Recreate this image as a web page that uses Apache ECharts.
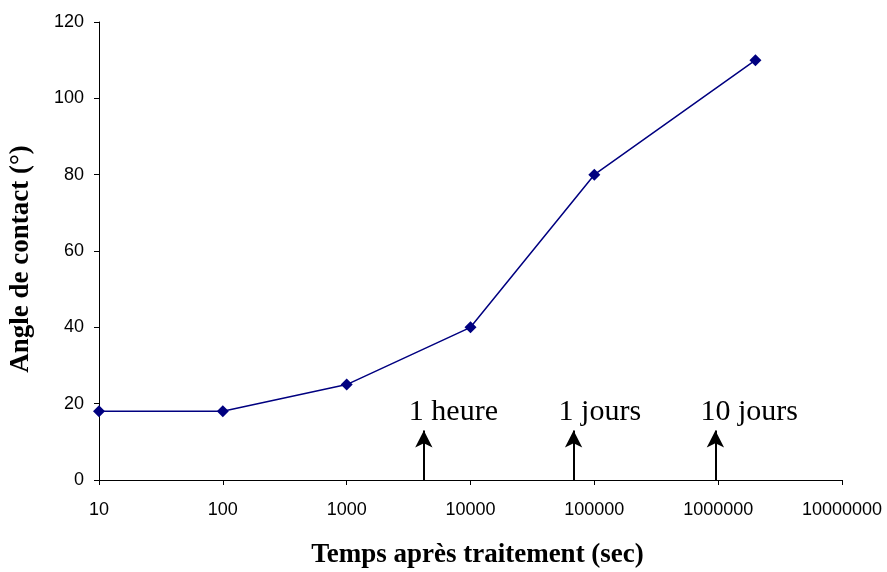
<!DOCTYPE html>
<html>
<head>
<meta charset="utf-8">
<script src="https://cdn.jsdelivr.net/npm/echarts@6/dist/echarts.min.js"></script>
<style>
  html, body { margin: 0; padding: 0; background: #fff; }
  #chart { width: 887px; height: 572px; }
</style>
</head>
<body>
<div id="chart"></div>
<script>
// temps (s) et angle de contact (deg)
var timesSec = [10, 100, 1000, 10000, 100000, 2000000];
var angles = [18, 18, 25, 40, 80, 110];

// reperes de temps (fleches)
var markTimes = [4200, 68000, 950000];
var markLabels = ['1 heure', '1 jours', '10 jours'];
var arrowTop = 13;   // hauteur de la fleche, en degres
var labelLevel = 18; // hauteur du texte

var chart = echarts.init(document.getElementById('chart'));

var lineData = timesSec.map(function (t, i) { return [t, angles[i]]; });

var arrows = markTimes.map(function (t) {
  return [{ coord: [t, 0] }, { coord: [t, arrowTop] }];
});
var labelPts = markTimes.map(function (t, i) {
  return { value: [t, labelLevel], name: markLabels[i] };
});

var option = {
  animation: false,
  grid: { left: 99, right: 45, top: 22, bottom: 92, containLabel: false, outerBoundsMode: 'none' },
  xAxis: {
    type: 'log',
    logBase: 10,
    min: 10,
    max: 10000000,
    splitNumber: 6,
    name: 'Temps après traitement (sec)',
    nameLocation: 'middle',
    nameGap: 62,
    nameTextStyle: { fontFamily: 'Liberation Serif', fontWeight: 'bold', fontSize: 27, color: '#000', padding: [0, 0, 0, 14] },
    axisLine: { lineStyle: { color: '#000', width: 1 } },
    axisTick: { show: true, inside: false, length: 5, lineStyle: { color: '#000' } },
    minorTick: { show: false },
    splitLine: { show: false },
    axisLabel: {
      fontFamily: 'Liberation Sans', fontSize: 18, color: '#000', margin: 21,
      formatter: function (v) { return String(Math.round(v)); }
    }
  },
  yAxis: {
    type: 'value',
    min: 0,
    max: 120,
    interval: 20,
    name: 'Angle de contact (°)',
    nameLocation: 'middle',
    nameGap: 64,
    nameTextStyle: { fontFamily: 'Liberation Serif', fontWeight: 'bold', fontSize: 27, color: '#000', padding: [0, 16, 0, 0] },
    axisLine: { show: true, lineStyle: { color: '#000', width: 1 } },
    axisTick: { show: true, inside: false, length: 5, lineStyle: { color: '#000' } },
    splitLine: { show: false },
    axisLabel: { fontFamily: 'Liberation Sans', fontSize: 18, color: '#000', margin: 15 }
  },
  series: [
    {
      type: 'line',
      data: lineData,
      symbol: 'diamond',
      symbolSize: 12,
      lineStyle: { color: '#000080', width: 1.5 },
      itemStyle: { color: '#000080' },
      markLine: {
        silent: true,
        symbol: ['none', 'arrow'],
        symbolSize: [13, 17],
        lineStyle: { color: '#000', width: 2, type: 'solid' },
        label: { show: false },
        data: arrows
      }
    },
    {
      type: 'scatter',
      data: labelPts,
      symbolSize: 0,
      silent: true,
      itemStyle: { opacity: 1 },
      label: {
        show: true,
        position: 'inside',
        align: 'left',
        offset: [-15, 1],
        formatter: '{b}',
        fontFamily: 'Liberation Serif',
        fontSize: 30,
        color: '#000'
      }
    }
  ]
};

chart.setOption(option);
</script>
</body>
</html>
